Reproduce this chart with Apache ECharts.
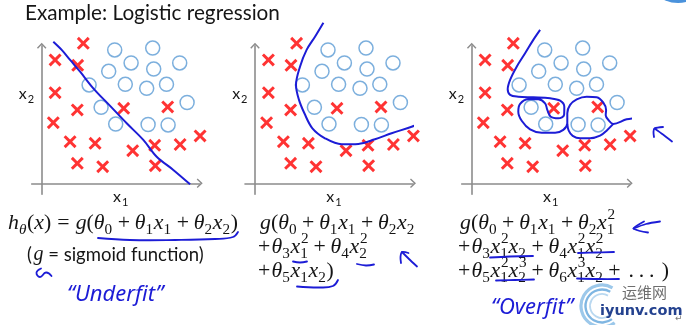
<!DOCTYPE html>
<html>
<head>
<meta charset="utf-8">
<title>Example: Logistic regression</title>
<script src="https://cdn.jsdelivr.net/npm/echarts@6.0.0/dist/echarts.min.js"></script>
<style>
html, body { margin: 0; padding: 0; background: #ffffff; }
#chart { width: 686px; height: 325px; }
</style>
</head>
<body>
<div id="chart"></div>
<script>
// ---- training set, shared by the three plots (feature space x1, x2) ----
const negX1 = [2.08, 0.67, 1.80, 0.67, 1.78, 0.58, 4.10, 6.30, 1.42, 2.67, 4.55, 5.65, 6.92, 7.92, 1.78, 3.05, 5.68];
const negX2 = [7.00, 6.17, 5.90, 4.53, 3.67, 3.03, 3.75, 3.82, 2.08, 2.00, 1.63, 1.90, 1.94, 2.37, 1.00, 0.83, 0.88];
const posX1 = [3.65, 5.55, 4.47, 5.60, 6.90, 3.35, 2.37, 4.18, 5.25, 6.24, 7.27, 2.97, 3.70, 5.32, 6.32];
const posX2 = [6.67, 6.76, 6.02, 5.71, 6.02, 5.60, 4.92, 4.95, 4.75, 4.95, 4.04, 3.80, 2.96, 2.94, 2.92];

// ---- hand-drawn decision boundaries ----
const linearBoundary = [[0.58, 7.08], [1.00, 6.67], [1.42, 6.17], [1.92, 5.58], [2.58, 4.75], [3.42, 3.87],
  [4.25, 3.00], [5.08, 2.17], [5.75, 1.33], [6.58, 0.67], [7.42, -0.05]];
const quadraticBoundary = [[3.42, 8.03], [3.00, 7.33], [2.58, 6.67], [2.25, 5.83], [2.05, 4.92], [2.20, 4.17],
  [2.47, 3.50], [2.87, 2.75], [3.50, 2.25], [4.33, 1.95], [5.17, 1.97], [6.00, 2.20], [6.83, 2.50],
  [7.83, 2.83], [8.50, 3.08], [9.30, 3.50]];
const wigglyBoundary = [[3.42, 7.67], [3.08, 7.17], [2.67, 6.50], [2.25, 5.83], [1.92, 5.17], [1.80, 4.70],
  [1.92, 4.42], [2.33, 4.33], [3.08, 4.30], [3.92, 4.25], [4.42, 4.13], [4.63, 3.83], [4.62, 3.42],
  [4.33, 3.25], [3.95, 3.33], [3.78, 3.67], [3.67, 4.00], [3.33, 4.20], [2.83, 4.20], [2.42, 3.97],
  [2.33, 3.58], [2.50, 3.13], [2.92, 2.70], [3.50, 2.53], [4.17, 2.53], [4.58, 2.67], [4.78, 3.00],
  [4.78, 3.50], [4.92, 3.92], [5.25, 4.20], [5.75, 4.33], [6.25, 4.30], [6.58, 4.03], [6.72, 3.67],
  [6.70, 3.40], [6.85, 3.15], [7.08, 2.97], [7.75, 3.20], [8.58, 3.33], [8.92, 3.50], [9.25, 3.75]];
const wigglyBoundaryLobe = [[4.78, 2.97], [4.85, 2.63], [5.05, 2.37], [5.42, 2.25], [5.92, 2.25],
  [6.42, 2.38], [6.78, 2.67], [7.08, 2.97]];

// ---- hypothesis text, one row per line ----
const hypothesisLinear = ['h_θ(x) = g(θ_0 + θ_1x_1 + θ_2x_2)'];
const hypothesisQuadratic = ['g(θ_0 + θ_1x_1 + θ_2x_2', '+θ_3x_1^2 + θ_4x_2^2', '+θ_5x_1x_2)'];
const hypothesisHighOrder = ['g(θ_0 + θ_1x_1 + θ_2x_1^2', '+θ_3x_1^2x_2 + θ_4x_1^2x_2^2', '+θ_5x_1^2x_2^3 + θ_6x_1^3x_2 + ...)'];

// ---- layout ----
const PLOT_ORIGIN_X = [41.7, 255, 471.7];
const PLOT_ORIGIN_Y = 183.3;
const PX_PER_UNIT = 20;
const X_MIN = -0.5, X_MAX = 7.9, Y_MIN = -0.55, Y_MAX = 6.88;

const INK = '#1c1cd6';
const AXIS_GREY = '#8c8c8c';
const CROSS_RED = '#ff0000';
const RING_BLUE = '#5b9bd5';
const TEXT_DARK = '#151515';
const SANS = 'Lato, "Open Sans", sans-serif';
const SERIF = '"Liberation Serif", "DejaVu Serif", serif';

const CROSS_SYMBOL = 'path://M0,1.6 L1.6,0 L5,3.4 L8.4,0 L10,1.6 L6.6,5 L10,8.4 L8.4,10 L5,6.6 L1.6,10 L0,8.4 L3.4,5 Z';
const CHEVRON = 'path://M5,0 L10,5.3 L8.9,6.3 L5,2.2 L1.1,6.3 L0,5.3 Z';

const measureCtx = document.createElement('canvas').getContext('2d');
function textWidth(s, font) { measureCtx.font = font; return measureCtx.measureText(s).width; }
function textEl(s, x, y, font, fill, align) {
  return {
    type: 'text', x: x, y: y, silent: true,
    style: { text: s, font: font, fill: fill, align: align || 'left', verticalAlign: 'middle',
             textAlign: align || 'left', textVerticalAlign: 'middle' }
  };
}

// tiny TeX-like row layout: italic letters, roman digits/operators, sub/superscripts
function serifFont(size, italic) { return (italic ? 'italic ' : '') + size.toFixed(2) + 'px ' + SERIF; }
const isLetter = ch => /[A-Za-zθ]/.test(ch);
function parseMath(src) {
  const out = []; let i = 0;
  const arg = () => {
    if (src[i] === '{') { const j = src.indexOf('}', i); const a = src.slice(i + 1, j); i = j + 1; return a; }
    return src[i++];
  };
  while (i < src.length) {
    const c = src[i];
    if (c === ' ') { i++; continue; }
    if (c === '_' || c === '^') {
      i++;
      const a = arg();
      const key = c === '_' ? 'sub' : 'sup';
      const last = out[out.length - 1];
      if (last && last.t === 'script' && last[key] == null) last[key] = a;
      else out.push({ t: 'script', [key]: a });
      continue;
    }
    if (c === '+') out.push({ t: 'bin', v: c });
    else if (c === '=') out.push({ t: 'rel', v: c });
    else if (c === '.') out.push({ t: 'dot', v: c });
    else out.push({ t: 'ord', v: c });
    i++;
  }
  return out;
}
function layoutMath(src, F, color) {
  const els = []; let x = 0;
  const put = (s, px, py, size, it) => {
    const font = serifFont(size, it);
    els.push(textEl(s, px, py, font, color));
    return textWidth(s, font);
  };
  const toks = parseMath(src);
  toks.forEach((tk, idx) => {
    if (tk.t === 'bin' || tk.t === 'rel') {
      const gap = idx === 0 ? 0 : (tk.t === 'rel' ? 5 / 18 : 4 / 18) * F;
      x += gap;
      x += put(tk.v, x, 0, F, false);
      x += idx === 0 ? 0.06 * F : gap;
    } else if (tk.t === 'dot') {
      const prev = toks[idx - 1], next = toks[idx + 1];
      if (!prev || prev.t !== 'dot') x += 0.14 * F;
      x += put('.', x, 0, F, false) + 0.22 * F;
      if (!next || next.t !== 'dot') x += 0.12 * F;
    } else if (tk.t === 'ord') {
      x += put(tk.v, x, 0, F, isLetter(tk.v));
    } else {
      const f = 0.7 * F; let adv = 0;
      if (tk.sub != null) adv = Math.max(adv, put(tk.sub, x, 0.34 * F, f, isLetter(tk.sub)));
      if (tk.sup != null) adv = Math.max(adv, put(tk.sup, x + 0.03 * F, -0.4 * F, f, isLetter(tk.sup)));
      x += adv + 0.03 * F;
    }
  });
  return { els: els, width: x };
}

// ---- grids, axes and series ----
const negPoints = negX1.map((v, i) => [v, negX2[i]]);
const posPoints = posX1.map((v, i) => [v, posX2[i]]);
const boundaries = [[linearBoundary], [quadraticBoundary], [wigglyBoundary, wigglyBoundaryLobe]];

function axisBase() {
  return {
    type: 'value',
    axisTick: { show: false },
    axisLabel: { show: false },
    splitLine: { show: false },
    axisLine: { show: true, onZero: true, symbol: ['none', CHEVRON], symbolSize: [10, 6],
                lineStyle: { color: AXIS_GREY, width: 1.6 } }
  };
}

const grid = [], xAxis = [], yAxis = [], series = [];
PLOT_ORIGIN_X.forEach((ox, g) => {
  grid.push({
    left: ox + X_MIN * PX_PER_UNIT,
    top: PLOT_ORIGIN_Y - Y_MAX * PX_PER_UNIT,
    width: (X_MAX - X_MIN) * PX_PER_UNIT,
    height: (Y_MAX - Y_MIN) * PX_PER_UNIT,
    containLabel: false,
    outerBoundsMode: 'none'
  });
  xAxis.push(Object.assign({ gridIndex: g, min: X_MIN, max: X_MAX }, axisBase()));
  yAxis.push(Object.assign({ gridIndex: g, min: Y_MIN, max: Y_MAX }, axisBase()));
  series.push({
    type: 'scatter', xAxisIndex: g, yAxisIndex: g, data: negPoints, clip: false, silent: true,
    symbol: CROSS_SYMBOL, symbolSize: 13, itemStyle: { color: CROSS_RED }
  });
  series.push({
    type: 'scatter', xAxisIndex: g, yAxisIndex: g, data: posPoints, clip: false, silent: true,
    symbol: 'circle', symbolSize: 14,
    itemStyle: { color: 'rgba(255,255,255,0)', borderColor: RING_BLUE, borderWidth: 1.5 }
  });
  boundaries[g].forEach(b => series.push({
    type: 'line', xAxisIndex: g, yAxisIndex: g, data: b, clip: false, silent: true,
    showSymbol: false, symbol: 'none', smooth: 0.35, z: 3,
    lineStyle: { color: INK, width: 2 }
  }));
});

// ---- text and pen annotations ----
const graphic = [];

const TITLE = 'Example: Logistic regression';
const titleSize = 20 * 255 / textWidth(TITLE, '20px ' + SANS);
graphic.push(textEl(TITLE, 25, 13.5, titleSize.toFixed(2) + 'px ' + SANS, TEXT_DARK));

function subscripted(main, sub, x, y, anchor) {
  const fm = '16px ' + SANS, fs = '11px ' + SANS;
  const w = textWidth(main, fm) + textWidth(sub, fs) + 1;
  const left = anchor === 'right' ? x - w : x - w / 2;
  return {
    type: 'group', x: left, y: y, silent: true,
    children: [textEl(main, 0, 0, fm, TEXT_DARK), textEl(sub, textWidth(main, fm) + 1, 5, fs, TEXT_DARK)]
  };
}
PLOT_ORIGIN_X.forEach(ox => {
  graphic.push(subscripted('x', '1', ox + 79, 197, 'center'));
  graphic.push(subscripted('x', '2', ox - 7.5, 94, 'right'));
});

const MATH_SIZE = 20;
const ROW_Y = [223.5, 247.5, 271.5];
const mathScale = 230 / layoutMath(hypothesisLinear[0], MATH_SIZE, TEXT_DARK).width;
function placeRows(rows, x) {
  rows.forEach((r, i) => {
    const lay = layoutMath(r, MATH_SIZE, TEXT_DARK);
    graphic.push({ type: 'group', x: i === 0 ? x : x - 2, y: ROW_Y[i], scaleX: mathScale, silent: true, children: lay.els });
  });
}
placeRows(hypothesisLinear, 8);
placeRows(hypothesisQuadratic, 260);
placeRows(hypothesisHighOrder, 460);

// "(g = sigmoid function)"
(function () {
  const S = 18.5;
  const fSans = S + 'px ' + SANS, fG = serifFont(S * 1.08, true);
  const parts = [['(', fSans], ['g', fG], [' = sigmoid function)', fSans]];
  let x = 0; const kids = [];
  parts.forEach(p => { kids.push(textEl(p[0], x, 0, p[1], TEXT_DARK)); x += textWidth(p[0], p[1]) + (p[0] === '(' ? 1.5 : 0); });
  graphic.push({ type: 'group', x: 27, y: 255, silent: true, children: kids });
})();

function pen(points, smooth, width) {
  return { type: 'polyline', silent: true, shape: { points: points, smooth: smooth == null ? 0.4 : smooth },
           style: { stroke: INK, lineWidth: width || 1.8, fill: null, lineCap: 'round', lineJoin: 'round' } };
}
// underlines
graphic.push(pen([[98, 238], [130, 240], [175, 240], [215, 239], [233, 237], [238, 232]]));
graphic.push(pen([[293, 261.5], [300, 262.5], [307, 261.5]]));
graphic.push(pen([[357, 264], [366, 265.5], [374, 264.5]]));
graphic.push(pen([[297, 286.5], [320, 287.5], [333, 286], [338, 280]]));
graphic.push(pen([[490, 257.5], [510, 256.5], [533, 256]]));
graphic.push(pen([[578, 253], [596, 252.5], [614, 252]]));
graphic.push(pen([[496, 280.5], [515, 280], [534, 279.5]]));
graphic.push(pen([[577, 278.5], [598, 279], [619, 279]]));
// arrows
graphic.push(pen([[417, 266.5], [409, 259], [402, 252]], 0.2));
graphic.push(pen([[401, 263], [400.5, 257], [402, 252], [408.5, 253]], 0.3));
graphic.push(pen([[660, 221.5], [646, 224], [633.5, 228.5]], 0.3));
graphic.push(pen([[644, 221.5], [638, 225], [633.5, 228.5], [640, 231], [648, 232.5]], 0.3));
graphic.push(pen([[672, 141.5], [663, 134.5], [654.5, 128.5]], 0.2));
graphic.push(pen([[654, 137], [653.5, 132], [654.5, 128.5], [663, 127]], 0.3));
// squiggle under g
graphic.push(pen([[41, 268.5], [36.5, 272.5], [40, 277], [46, 272.5], [51.5, 276]], 0.5));
// handwritten verdicts
graphic.push(textEl('\u201CUnderfit\u201D', 67, 295, 'italic 22px "Noto Sans", sans-serif', INK));
graphic.push(textEl('\u201COverfit\u201D', 491, 308, 'italic 22px "Noto Sans", sans-serif', INK));

// site watermark and slide decorations
graphic.push({ type: 'circle', silent: true, shape: { cx: 678, cy: -30, r: 33 }, style: { fill: '#4a92dc' } });
[[21, 3.2, '#9cc8ea'], [16.5, 2.4, '#7fb6e2'], [12, 1.8, '#b9d8f0']].forEach(a => {
  graphic.push({ type: 'arc', silent: true, shape: { cx: 602, cy: 306, r: a[0], startAngle: -Math.PI / 3, endAngle: Math.PI / 3.4, clockwise: false },
                 style: { stroke: a[2], lineWidth: a[1], fill: null } });
});
graphic.push(textEl('运维网', 622, 292, '15px "Noto Sans CJK SC", sans-serif', '#6e6e6e'));
graphic.push(textEl('iyunv.com', 600, 311, 'bold 14.5px "DejaVu Sans", sans-serif', '#24428f'));
graphic.push(textEl('\u21B5', 675, 319, '9px "DejaVu Sans", sans-serif', '#777777'));

const chart = echarts.init(document.getElementById('chart'), null, { renderer: 'canvas' });
chart.setOption({
  animation: false,
  backgroundColor: '#ffffff',
  grid: grid,
  xAxis: xAxis,
  yAxis: yAxis,
  series: series,
  graphic: graphic
});
</script>
</body>
</html>
